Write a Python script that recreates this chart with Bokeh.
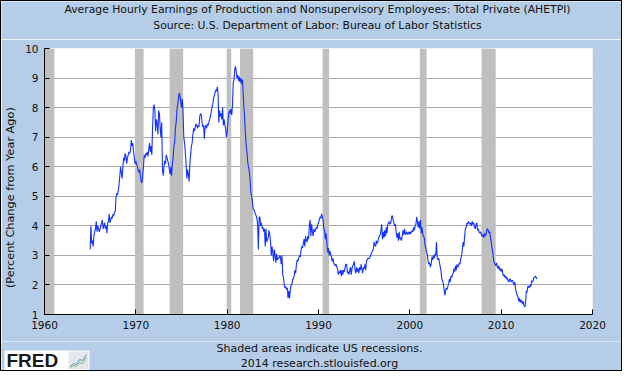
from bokeh.plotting import figure
from bokeh.models import FixedTicker, Range1d
from bokeh.layouts import column
from bokeh.core.properties import value
from bokeh.embed import file_html
from bokeh.resources import INLINE

# Monthly year-over-year % change, AHETPI
earn_1965_1969 = [
    3.2, 4.0, 3.4, 3.5, 3.3, 3.7, 3.8, 3.9, 4.15, 3.8, 4.0, 3.9,
    3.8, 3.9, 4.0, 4.1, 4.2, 3.9, 4.0, 4.1, 3.9, 4.0, 3.75, 4.1,
    4.15, 4.4, 4.1, 4.2, 4.3, 4.25, 4.4, 4.35, 4.45, 4.5, 5.0, 5.1,
    5.05, 5.2, 5.4, 5.7, 6.0, 5.8, 5.6, 6.0, 6.3, 6.2, 6.45, 6.35,
    6.1, 6.3, 6.4, 6.5, 6.45, 6.55, 6.9, 6.7, 6.8, 6.5, 6.3, 6.1,
]
earn_1970s = [
    6.2, 6.1, 6.0, 5.9, 5.8, 5.9, 5.7, 5.5, 5.45, 5.7, 6.0, 6.4,
    6.3, 6.45, 6.4, 6.5, 6.35, 6.6, 6.8, 6.5, 6.7, 6.4, 7.3, 8.0,
    8.1, 7.9, 7.2, 7.6, 7.45, 7.1, 7.9, 7.8, 7.3, 7.0, 7.5, 5.9,
    5.7, 6.0, 6.2, 6.1, 6.4, 6.3, 6.2, 6.1, 5.9, 5.75, 6.0, 5.7,
    6.1, 6.3, 6.7, 6.8, 7.3, 7.5, 7.9, 8.1, 8.3, 8.5, 8.4, 8.2,
    8.0, 8.3, 7.9, 7.0, 6.8, 6.5, 6.1, 5.6, 5.9, 5.75, 5.5, 6.1,
    6.4, 6.7, 6.8, 7.1, 7.3, 7.2, 7.35, 7.45, 7.4, 7.3, 7.4, 7.35,
    7.7, 7.8, 7.75, 7.5, 7.35, 7.4, 6.95, 7.35, 7.4, 7.3, 7.45, 7.4,
    7.5, 7.6, 7.7, 7.85, 8.0, 8.1, 8.3, 8.4, 8.5, 8.6, 8.55, 8.7,
    8.5, 7.5, 7.9, 7.7, 7.8, 7.6, 8.0, 7.4, 7.6, 7.4, 7.3, 7.0,
]
earn_1980s = [
    7.2, 7.5, 7.8, 7.9, 7.8, 7.95, 7.75, 8.1, 8.85, 8.95, 9.3, 9.4,
    9.2, 9.0, 9.1, 8.9, 9.05, 8.85, 9.0, 8.8, 8.95, 8.5, 8.0, 7.6,
    7.1, 6.7, 6.5, 6.15, 6.0, 5.85, 5.6, 5.15, 5.0, 4.85, 4.6, 4.55,
    4.5, 4.4, 4.35, 4.25, 4.05, 3.2, 4.3, 4.3, 4.0, 4.1, 3.9, 3.95,
    3.8, 3.9, 3.3, 3.9, 3.45, 3.55, 3.6, 3.85, 3.7, 3.45, 3.0, 3.3,
    3.1, 2.8, 3.2, 3.0, 2.75, 3.05, 2.85, 2.9, 2.9, 3.0, 2.95, 2.7,
    3.0, 2.35, 2.25, 2.0, 1.9, 1.95, 1.85, 1.9, 1.55, 1.8, 1.55, 1.85,
    2.0, 2.0, 2.2, 2.2, 2.3, 2.5, 2.4, 2.7, 2.85, 2.8, 2.9, 3.0,
    2.95, 3.15, 3.3, 3.25, 3.4, 3.55, 3.3, 3.65, 3.5, 3.45, 3.65, 3.55,
    4.05, 4.2, 3.65, 4.05, 3.8, 3.65, 3.9, 3.8, 3.85, 3.95, 3.9, 4.05,
]
earn_1990s = [
    4.1, 4.2, 4.3, 4.25, 4.4, 4.3, 4.2, 3.9, 3.85, 3.55, 3.75, 3.45,
    3.1, 3.25, 3.0, 3.15, 3.05, 2.95, 2.8, 2.9, 2.75, 2.7, 2.65, 2.7,
    2.6, 2.55, 2.35, 2.45, 2.4, 2.5, 2.3, 2.5, 2.35, 2.5, 2.45, 2.6,
    2.7, 2.7, 2.4, 2.45, 2.35, 2.5, 2.6, 2.35, 2.55, 2.65, 2.7, 2.8,
    2.5, 2.4, 2.6, 2.45, 2.55, 2.4, 2.6, 2.5, 2.7, 2.55, 2.4, 2.6,
    2.55, 2.7, 2.5, 2.8, 2.85, 2.9, 2.9, 2.9, 2.95, 3.05, 3.1, 3.15,
    3.2, 3.45, 3.35, 3.3, 3.5, 3.4, 3.45, 3.6, 3.65, 3.7, 3.85, 4.05,
    3.55, 3.8, 3.6, 3.85, 3.65, 3.95, 3.75, 4.05, 4.1, 4.15, 4.05, 4.1,
    4.3, 4.35, 4.2, 4.1, 4.0, 4.05, 3.8, 3.6, 3.75, 3.5, 3.8, 3.55,
    3.6, 3.5, 3.65, 3.85, 3.7, 3.9, 3.7, 3.75, 3.8, 3.7, 3.75, 3.8,
]
earn_2000s = [
    3.7, 3.8, 3.75, 3.85, 3.8, 3.95, 3.85, 4.0, 4.05, 4.3, 4.15, 3.95,
    4.15, 3.9, 4.2, 3.75, 3.95, 3.7, 3.65, 3.6, 3.35, 3.25, 3.1, 3.05,
    2.8, 2.7, 2.75, 2.6, 2.7, 2.95, 2.85, 3.0, 2.9, 3.05, 3.0, 3.45,
    2.9, 2.85, 2.9, 2.75, 2.6, 2.45, 2.2, 2.15, 2.05, 1.85, 1.65, 1.8,
    1.9, 1.85, 1.95, 2.05, 2.2, 2.1, 2.3, 2.25, 2.35, 2.4, 2.55, 2.45,
    2.65, 2.5, 2.7, 2.6, 2.65, 2.75, 2.7, 2.9, 3.0, 3.2, 3.45, 3.3,
    3.65, 3.9, 3.95, 4.1, 4.05, 4.15, 4.1, 4.05, 4.1, 4.0, 4.15, 4.05,
    4.1, 3.95, 3.9, 4.05, 4.1, 3.85, 3.9, 3.8, 3.75, 3.8, 3.7, 3.65,
    3.7, 3.6, 3.75, 3.65, 3.7, 3.85, 3.9, 3.85, 3.75, 3.8, 3.6, 3.45,
    3.25, 3.1, 2.85, 2.75, 2.7, 2.65, 2.75, 2.6, 2.55, 2.65, 2.5, 2.55,
]
earn_2010_2013 = [
    2.45, 2.55, 2.4, 2.3, 2.35, 2.25, 2.3, 2.2, 2.25, 2.15, 2.1, 2.2,
    2.2, 2.1, 2.15, 2.15, 2.05, 2.0, 2.1, 1.85, 1.75, 1.65, 1.6, 1.45,
    1.55, 1.4, 1.5, 1.45, 1.35, 1.45, 1.3, 1.25, 1.35, 1.8, 1.75, 1.95,
    1.95, 1.9, 2.0, 1.95, 2.15, 2.1, 2.15, 2.25, 2.25, 2.3, 2.25, 2.2,
]
first_year = 1965

# Recession periods (decimal years)
rec_start = [1960.0, 1969.9, 1973.7, 1979.95, 1981.4, 1990.45, 2001.1, 2007.85]
rec_end = [1961.08, 1970.85, 1975.18, 1980.45, 1982.85, 1991.16, 2001.83, 2009.4]

x_ticks = [1960, 1970, 1980, 1990, 2000, 2010, 2020]
y_ticks = [1, 2, 3, 4, 5, 6, 7, 8, 9, 10]

title_1 = "Average Hourly Earnings of Production and Nonsupervisory Employees: Total Private (AHETPI)"
title_2 = "Source: U.S. Department of Labor: Bureau of Labor Statistics"
note_1 = "Shaded areas indicate US recessions."
note_2 = "2014 research.stlouisfed.org"
y_label = "(Percent Change from Year Ago)"

values = earn_1965_1969 + earn_1970s + earn_1980s + earn_1990s + earn_2000s + earn_2010_2013
dates = [first_year + i / 12 for i in range(len(values))]

FONT = "DejaVu Sans"
BG = "#b5cde6"
TXT = "#111111"
W = 620


def no_align(f):
    try:
        f.frame_align = False
    except Exception:
        pass


def strip(height):
    f = figure(width=W, height=height, output_backend="svg", toolbar_location=None,
               x_range=Range1d(0, W), y_range=Range1d(height, 0),
               x_axis_type=None, y_axis_type=None, min_border=0,
               background_fill_color=BG, border_fill_color=BG)
    f.outline_line_color = None
    f.grid.visible = False
    no_align(f)
    return f


# ---- header with the two title lines
header = strip(38)
header.text(x=[316, 316], y=[8, 24], text=[title_1, title_2],
            text_font=value(FONT), text_font_size="10.8px", text_color=TXT,
            text_align="center", text_baseline="middle")

# ---- main chart
p = figure(width=W, height=302, output_backend="svg", toolbar_location=None,
           x_range=Range1d(x_ticks[0], x_ticks[-1]), y_range=Range1d(y_ticks[0], y_ticks[-1]),
           min_border_left=43, min_border_right=29, min_border_top=9, min_border_bottom=27,
           background_fill_color="white", border_fill_color=BG)
p.outline_line_color = None
no_align(p)

p.quad(left=rec_start, right=rec_end, bottom=y_ticks[0], top=y_ticks[-1],
       fill_color="#bfbfbf", line_color=None)
p.line(dates, values, line_color="#1432ff", line_width=1.1)

p.xaxis.ticker = FixedTicker(ticks=x_ticks)
p.yaxis.ticker = FixedTicker(ticks=y_ticks)
for ax in (p.xaxis[0], p.yaxis[0]):
    ax.major_tick_in = 5
    ax.major_tick_out = 0
    ax.minor_tick_line_color = None
    ax.axis_line_color = "black"
    ax.major_tick_line_color = "black"
    ax.major_label_text_font = FONT
    ax.major_label_text_font_size = "10.5px"
    ax.major_label_text_color = TXT
p.xaxis.major_label_standoff = 6
p.yaxis.major_label_standoff = 6
p.yaxis.axis_label = y_label + "\u00a0" * 9
p.yaxis.axis_label_text_font = FONT
p.yaxis.axis_label_text_font_size = "11.3px"
p.yaxis.axis_label_text_font_style = "normal"
p.yaxis.axis_label_text_color = TXT
p.yaxis.axis_label_standoff = 5

p.xgrid.grid_line_color = None
p.ygrid.grid_line_color = "#a8a8a8"
p.ygrid.ticker = FixedTicker(ticks=y_ticks)

# ---- footer: recession note, copyright and FRED logo
footer = strip(29)
footer.text(x=[318, 318], y=[7, 22], text=[note_1, note_2],
            text_font=value(FONT), text_font_size="11px", text_color=TXT,
            text_align="center", text_baseline="middle")
footer.quad(left=[3], right=[88], top=[9], bottom=[29], fill_color="white", line_color=None)
footer.text(x=[5], y=[19], text=["FRED"], text_font=value("Liberation Sans"),
            text_font_size="19px", text_font_style="bold", text_color="#1a1a1a",
            text_align="left", text_baseline="middle")
footer.quad(left=[67], right=[87], top=[10], bottom=[28], fill_color="#e4e8ec", line_color=None)
footer.line(x=[69, 72, 75, 78, 81, 85], y=[25, 22, 23, 18, 19, 13], line_color="#5b8fd0", line_width=1)
footer.line(x=[69, 72, 75, 78, 81, 85], y=[26, 24, 25, 21, 22, 16], line_color="#7cb36b", line_width=1)

layout = column(header, p, footer, spacing=0, styles={"border": "1px solid black"})

open("out.html", "w").write(file_html(layout, INLINE))
